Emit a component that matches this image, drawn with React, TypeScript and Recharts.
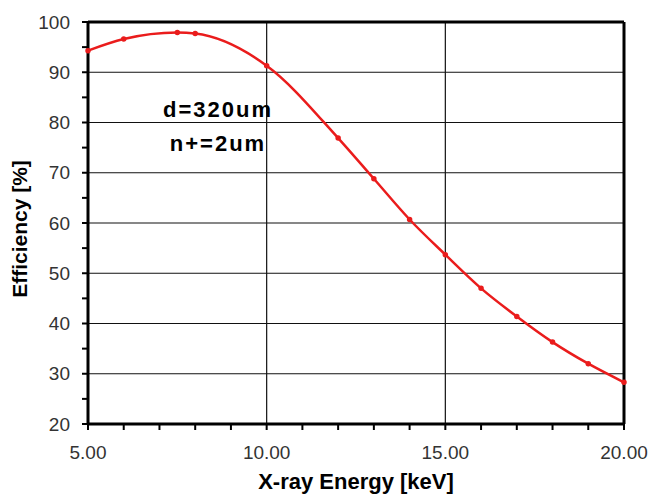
import React from 'react';
import {
  LineChart,
  Line,
  XAxis,
  YAxis,
  CartesianGrid,
  ReferenceLine,
} from 'recharts';

// X-ray energy (keV) at the plotted markers
const energy = [5, 6, 7.5, 8, 10, 12, 13, 14, 15, 16, 17, 18, 19, 20];
// detection efficiency (%)
const efficiency = [94.3, 96.6, 97.9, 97.7, 91.3, 76.9, 68.8, 60.7, 53.7, 47.0, 41.4, 36.3, 32.0, 28.3];

const xTicks = [5, 6, 7, 8, 9, 10, 11, 12, 13, 14, 15, 16, 17, 18, 19, 20];
const xMajor = [5, 10, 15, 20];
const yTicks = [20, 25, 30, 35, 40, 45, 50, 55, 60, 65, 70, 75, 80, 85, 90, 95, 100];
const yMajor = [20, 30, 40, 50, 60, 70, 80, 90, 100];

const notes = ['d=320um', 'n+=2um'];

const data = energy.map((e, i) => ({ energy: e, eff: efficiency[i] }));

const RED = '#ea1c1c';
const FONT = '"Liberation Sans", Arial, sans-serif';

export default function App() {
  return (
    <div style={{ position: 'absolute', left: 0, top: 0, width: 652, height: 497, background: '#fff' }}>
      <LineChart
        width={652}
        height={497}
        data={data}
        margin={{ top: 22, right: 28, left: 0, bottom: 0 }}
      >
        <CartesianGrid
          stroke="#111"
          strokeWidth={1.2}
          horizontalValues={yMajor}
          verticalValues={xMajor}
        />
        <XAxis
          dataKey="energy"
          type="number"
          domain={[5, 20]}
          ticks={xTicks}
          interval={0}
          height={73}
          axisLine={{ stroke: '#000', strokeWidth: 3 }}
          tickLine={{ stroke: '#000', strokeWidth: 2 }}
          tickSize={6}
          tickMargin={16}
          tick={{ fill: '#333', fontSize: 19, fontFamily: FONT }}
          tickFormatter={(v: number) => (xMajor.includes(v) ? v.toFixed(2) : '')}
          label={{
            value: 'X-ray Energy [keV]',
            position: 'insideBottom',
            offset: 8,
            fill: '#000',
            fontSize: 22,
            fontWeight: 'bold',
            fontFamily: FONT,
          }}
        />
        <YAxis
          type="number"
          domain={[20, 100]}
          ticks={yTicks}
          interval={0}
          width={88}
          axisLine={{ stroke: '#000', strokeWidth: 3 }}
          tickLine={{ stroke: '#000', strokeWidth: 2 }}
          tickSize={6}
          tickMargin={12}
          tick={{ fill: '#333', fontSize: 19, fontFamily: FONT }}
          tickFormatter={(v: number) => (yMajor.includes(v) ? String(v) : '')}
          label={{
            value: 'Efficiency [%]',
            angle: -90,
            position: 'insideLeft',
            offset: 20,
            dy: 6,
            fill: '#000',
            fontSize: 21,
            fontWeight: 'bold',
            fontFamily: FONT,
            style: { textAnchor: 'middle' },
          }}
        />
        <ReferenceLine y={100} stroke="#000" strokeWidth={3} />
        <ReferenceLine x={20} stroke="#000" strokeWidth={3} />
        <Line
          type="monotone"
          dataKey="eff"
          stroke={RED}
          strokeWidth={2.5}
          dot={{ r: 1.5, fill: RED, stroke: RED }}
          isAnimationActive={false}
        />
      </LineChart>
      {notes.map((t, i) => (
        <div
          key={t}
          style={{
            position: 'absolute',
            left: 118,
            width: 200,
            top: 97 + i * 34,
            textAlign: 'center',
            fontFamily: FONT,
            fontWeight: 'bold',
            fontSize: 22,
            letterSpacing: 2,
            lineHeight: '26px',
            color: '#000',
          }}
        >
          {t}
        </div>
      ))}
    </div>
  );
}
